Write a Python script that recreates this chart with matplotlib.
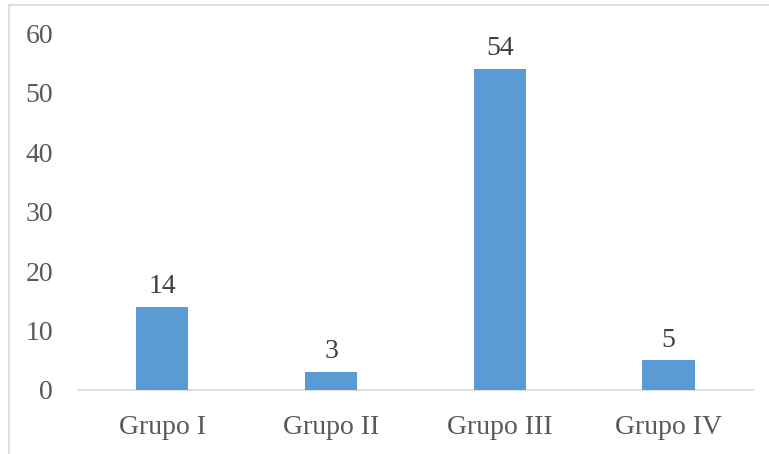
import matplotlib
matplotlib.use("Agg")
import matplotlib.pyplot as plt
from matplotlib.lines import Line2D

categories = ["Grupo I", "Grupo II", "Grupo III", "Grupo IV"]
values = [14, 3, 54, 5]
y_ticks = [0, 10, 20, 30, 40, 50, 60]

plt.rcParams['font.family'] = ['Liberation Serif', 'DejaVu Serif']

fig = plt.figure(figsize=(7.69, 4.54), dpi=100)
ax = fig.add_axes([0.1014, 0.141, 0.8776, 0.786])

xs = list(range(len(categories)))
bars = ax.bar(xs, values, width=0.31, color='#5B9BD5', zorder=3)
for x, v in zip(xs, values):
    ax.text(x, v + 1.3, str(v), ha='center', va='bottom', fontsize=20, color='#404040')

ax.set_xlim(-0.5, 3.5)
ax.set_ylim(0, 60)
ax.set_yticks(y_ticks)
ax.set_xticks(xs)
ax.set_xticklabels(categories)
ax.tick_params(axis='both', length=0, labelsize=20, labelcolor='#595959')
ax.tick_params(axis='y', pad=18)
ax.tick_params(axis='x', pad=18)
for s in ['left', 'right', 'top']:
    ax.spines[s].set_visible(False)
ax.spines['bottom'].set_color('#D9D9D9')
ax.spines['bottom'].set_linewidth(1.2)

# outer chart frame
fig.add_artist(Line2D([9 / 769, 9 / 769], [0, 1 - 5 / 454], transform=fig.transFigure,
                      color='#D9D9D9', lw=1.2))
fig.add_artist(Line2D([9 / 769, 1], [1 - 5 / 454, 1 - 5 / 454], transform=fig.transFigure,
                      color='#D9D9D9', lw=1.2))

fig.savefig("out.png", dpi=100)
